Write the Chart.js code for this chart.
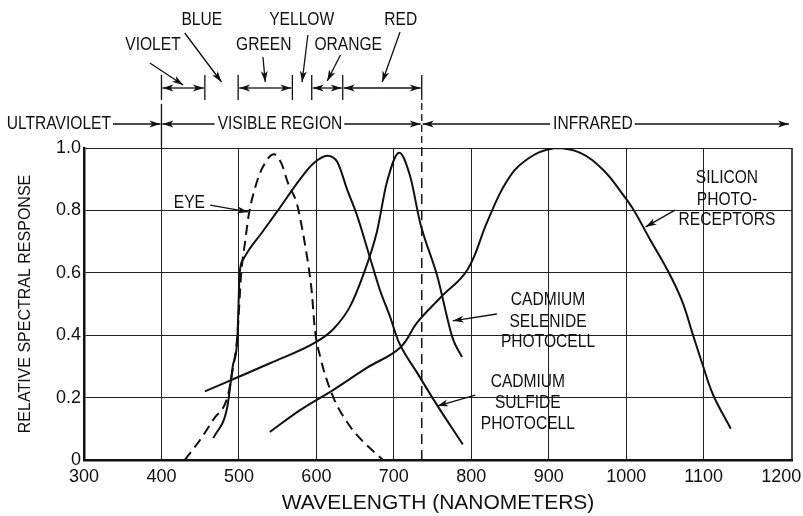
<!DOCTYPE html>
<html>
<head>
<meta charset="utf-8">
<script src="https://cdn.jsdelivr.net/npm/chart.js@4.4.0/dist/chart.umd.min.js"></script>
<style>
  html, body { margin: 0; padding: 0; background: #fff; }
</style>
</head>
<body>
<canvas id="spectralChart" width="803" height="516"></canvas>
<script>
// Wellenlänge (nm) / relative Empfindlichkeit
const eyeNm   = [430, 450, 467, 485, 492, 498, 503, 508, 513, 523, 531, 545, 555, 563, 575, 581, 588, 594, 598, 605, 622, 640, 656, 686];
const eyeResp = [0, 0.065, 0.13, 0.2, 0.29, 0.4, 0.6, 0.7, 0.79, 0.89, 0.94, 0.98, 0.95, 0.89, 0.82, 0.75, 0.65, 0.54, 0.42, 0.33, 0.2, 0.12, 0.07, 0];

const cdsNm   = [467, 485, 492, 498, 501, 506, 512, 530, 549, 579, 596, 614, 627, 640, 653, 669, 682, 695, 706, 730, 756, 789];
const cdsResp = [0.07, 0.17, 0.3, 0.39, 0.6, 0.645, 0.67, 0.73, 0.795, 0.9, 0.95, 0.975, 0.955, 0.865, 0.78, 0.65, 0.545, 0.46, 0.38, 0.28, 0.175, 0.05];

const cdseNm   = [456, 540, 601, 622, 643, 660, 678, 691, 707, 721, 734, 756, 776, 788];
const cdseResp = [0.22, 0.31, 0.38, 0.42, 0.49, 0.59, 0.73, 0.89, 0.985, 0.91, 0.76, 0.59, 0.39, 0.33];

const siNm   = [540, 579, 622, 665, 708, 730, 760, 795, 820, 845, 870, 908, 940, 970, 996, 1010, 1030, 1053, 1072, 1085, 1098, 1112, 1135];
const siResp = [0.09, 0.16, 0.225, 0.295, 0.36, 0.44, 0.52, 0.61, 0.76, 0.89, 0.96, 1.0, 0.985, 0.93, 0.85, 0.8, 0.71, 0.61, 0.51, 0.41, 0.31, 0.21, 0.10];

// Grenzen der Farbbänder (nm)
const bandEdges = [400, 456, 499, 569, 594, 634, 736];
const bandNames = ['VIOLET', 'BLUE', 'GREEN', 'YELLOW', 'ORANGE', 'RED'];
const visibleEnd = 736;

const xMin = 300, xMax = 1214;
const xStep = 100;
const yTickStep = 0.2;

const FONT = "'Liberation Sans', Arial, sans-serif";
const INK = '#111';
const NARROW = 0.82; // schmale Schrift nachbilden

const pts = (xs, ys) => xs.map((x, i) => ({ x: x, y: ys[i] }));

function head(ctx, x, y, ang) {
    ctx.save();
    ctx.translate(x, y);
    ctx.rotate(ang);
    ctx.beginPath();
    ctx.moveTo(0, 0);
    ctx.lineTo(-11, -3.5);
    ctx.lineTo(-8, 0);
    ctx.lineTo(-11, 3.5);
    ctx.closePath();
    ctx.fill();
    ctx.restore();
}

function arrow(ctx, x1, y1, x2, y2) {
    ctx.beginPath();
    ctx.moveTo(x1, y1);
    ctx.lineTo(x2, y2);
    ctx.stroke();
    head(ctx, x2, y2, Math.atan2(y2 - y1, x2 - x1));
}

function seg(ctx, x1, y1, x2, y2) {
    ctx.beginPath();
    ctx.moveTo(x1, y1);
    ctx.lineTo(x2, y2);
    ctx.stroke();
}

function text(ctx, str, x, y, align) {
    ctx.save();
    ctx.translate(x, y);
    ctx.scale(NARROW, 1);
    ctx.textAlign = align || 'center';
    ctx.fillText(str, 0, 0);
    ctx.restore();
    return ctx.measureText(str).width * NARROW;
}

// Beschriftungen und Pfeile über und im Diagramm
const annotations = {
    id: 'annotations',
    afterDraw(chart) {
        const ctx = chart.ctx;
        const xs = chart.scales.x, ys = chart.scales.y;
        const px = v => xs.getPixelForValue(v);
        const py = v => ys.getPixelForValue(v);
        const area = chart.chartArea;

        ctx.save();
        ctx.strokeStyle = INK;
        ctx.fillStyle = INK;
        ctx.font = '19px ' + FONT;
        ctx.textBaseline = 'middle';

        // rechter Rand
        ctx.lineWidth = 1.5;
        seg(ctx, area.right, area.top, area.right, area.bottom);
        ctx.lineWidth = 1.3;

        // Farbbänder
        bandEdges.forEach(v => seg(ctx, px(v), 75, px(v), 100));
        [0, 2, 4, 5].forEach(i => {
            const a = px(bandEdges[i]) + 1, b = px(bandEdges[i + 1]) - 1;
            const m = (a + b) / 2;
            arrow(ctx, m, 88, a, 88);
            arrow(ctx, m, 88, b, 88);
        });
        const labelPos = [
            [389, 45, 385, 63, 85],
            [452, 20, 430, 33, 82],
            [532, 45, 531, 57, 82],
            [581, 20, 589, 35, 82],
            [641, 45, 631, 55, 81],
            [709, 20, 708, 32, 82]
        ];
        bandNames.forEach((name, i) => {
            const p = labelPos[i];
            text(ctx, name, px(p[0]), p[1]);
            const tip = px((bandEdges[i] + bandEdges[i + 1]) / 2);
            arrow(ctx, px(p[2]), p[3], tip, p[4]);
        });

        // Bereiche UV / sichtbar / IR
        const ry = 124;
        const x400 = px(bandEdges[0]), xEnd = px(visibleEnd);
        seg(ctx, x400, 104, x400, area.top);
        ctx.setLineDash([7, 4]);
        seg(ctx, xEnd, 103, xEnd, area.top);
        ctx.setLineDash([]);

        text(ctx, 'ULTRAVIOLET', 111, ry, 'right');
        arrow(ctx, 113, ry, x400 - 1, ry);

        const vx = px(553);
        const vw = text(ctx, 'VISIBLE REGION', vx, ry);
        arrow(ctx, vx - vw / 2 - 3, ry, x400 + 1, ry);
        arrow(ctx, vx + vw / 2 + 2, ry, xEnd - 1, ry);

        const ix = px(957);
        const iw = text(ctx, 'INFRARED', ix, ry);
        arrow(ctx, ix - iw / 2 - 3, ry, xEnd + 1, ry);
        arrow(ctx, ix + iw / 2 + 2, ry, px(1210), ry);

        // Kurvenbeschriftungen
        const curveLabels = [
            { lines: ['EYE'], x: 436, y: [0.824], from: [463, 0.817], to: [512, 0.795] },
            { lines: ['SILICON', 'PHOTO-', 'RECEPTORS'], x: 1130, y: [0.904, 0.833, 0.769], from: [1063, 0.801], to: [1025, 0.747] },
            { lines: ['CADMIUM', 'SELENIDE', 'PHOTOCELL'], x: 899, y: [0.513, 0.442, 0.378], from: [833, 0.468], to: [776, 0.446] },
            { lines: ['CADMIUM', 'SULFIDE', 'PHOTOCELL'], x: 873, y: [0.25, 0.183, 0.115], from: [805, 0.208], to: [756, 0.173] }
        ];
        curveLabels.forEach(l => {
            l.lines.forEach((t, i) => text(ctx, t, px(l.x), py(l.y[i])));
            arrow(ctx, px(l.from[0]), py(l.from[1]), px(l.to[0]), py(l.to[1]));
        });
        ctx.restore();
    }
};

Chart.defaults.font.family = FONT;
Chart.defaults.color = INK;

const curveStyle = {
    borderColor: INK,
    borderWidth: 2,
    pointRadius: 0,
    fill: false,
    cubicInterpolationMode: 'monotone'
};

const ctx = document.getElementById('spectralChart').getContext('2d');
const spectralChart = new Chart(ctx, {
    type: 'line',
    data: {
        datasets: [
            { ...curveStyle, label: 'EYE', data: pts(eyeNm, eyeResp), borderDash: [10, 6] },
            { ...curveStyle, label: 'CADMIUM SULFIDE PHOTOCELL', data: pts(cdsNm, cdsResp) },
            { ...curveStyle, label: 'CADMIUM SELENIDE PHOTOCELL', data: pts(cdseNm, cdseResp) },
            { ...curveStyle, label: 'SILICON PHOTO-RECEPTORS', data: pts(siNm, siResp),
              cubicInterpolationMode: 'default', tension: 0.4 },
            { label: 'visible', data: [{ x: visibleEnd, y: 0 }, { x: visibleEnd, y: 1 }],
              borderColor: INK, borderWidth: 1.5, borderDash: [10, 6], pointRadius: 0, fill: false }
        ]
    },
    options: {
        responsive: false,
        animation: false,
        layout: { padding: { top: 148, right: 11, bottom: 0, left: 0 } },
        plugins: { legend: { display: false }, tooltip: { enabled: false } },
        scales: {
            x: {
                type: 'linear',
                min: xMin,
                max: xMax,
                afterFit: s => { s.height = 56; s.paddingLeft = 0; s.paddingRight = 0; },
                ticks: { stepSize: xStep, includeBounds: false, padding: 6, font: { size: 18 },
                         maxRotation: 0, autoSkip: false, callback: v => String(v) },
                grid: {
                    drawTicks: false,
                    color: c => (c.tick && c.tick.value === 1200) ? 'rgba(0,0,0,0)' : '#222',
                    lineWidth: 1
                },
                border: { display: true, color: INK, width: 2.5 },
                title: { display: true, text: 'WAVELENGTH (NANOMETERS)', font: { size: 21 }, padding: { top: 0, bottom: 0 } }
            },
            y: {
                min: 0,
                max: 1,
                afterFit: s => { s.width = 84; s.paddingTop = 0; s.paddingBottom = 0; },
                ticks: { stepSize: yTickStep, padding: 3, font: { size: 18 },
                         callback: v => v === 0 ? '0' : v.toFixed(1) },
                grid: { drawTicks: false, color: '#222', lineWidth: 1 },
                border: { display: true, color: INK, width: 2.5 },
                title: { display: true, text: 'RELATIVE SPECTRAL RESPONSE', font: { size: 16 }, padding: { top: 16, bottom: 0 } }
            }
        }
    },
    plugins: [annotations]
});
</script>
</body>
</html>
